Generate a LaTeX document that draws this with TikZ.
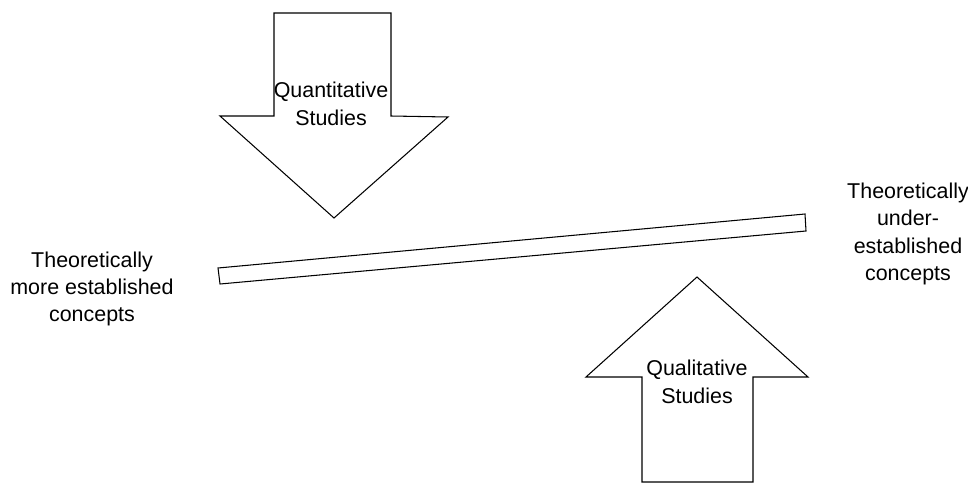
\documentclass[tikz,border=0pt]{standalone}
\usepackage{fontspec}
\setmainfont{Liberation Sans}
\usepackage{tikz}

\tikzset{
    shape line/.style={draw=black, line width=0.6pt, fill=white, line join=miter},
    label text/.style={align=center, font=\fontsize{12.2}{15.6}\selectfont, inner sep=0pt}
}

\begin{document}
\begin{tikzpicture}[x=0.02cm, y=-0.02cm]
        \useasboundingbox (0,0) rectangle (968,484);

        % down arrow
        \draw[shape line] (274,13) -- (391,13) -- (391,116) -- (448,117)
            -- (334,218) -- (220,116) -- (274,116) -- cycle;
        \node[label text] (quant) at (331,104) {Quantitative\\Studies};

        % tilted bar
        \draw[shape line] (218,268) -- (805,214) -- (806,231) -- (220,284) -- cycle;

        % up arrow
        \draw[shape line] (642,482) -- (642,377) -- (586,377) -- (697,277)
            -- (808,377) -- (753,377) -- (753,482) -- cycle;
        \node[label text] (qual) at (697,382) {Qualitative\\Studies};

        \node[label text] (left) at (92,289) {Theoretically\\more established\\concepts};
        \node[label text] (right) at (908,234) {Theoretically\\under-\\established\\concepts};
    \end{tikzpicture}
\end{document}
